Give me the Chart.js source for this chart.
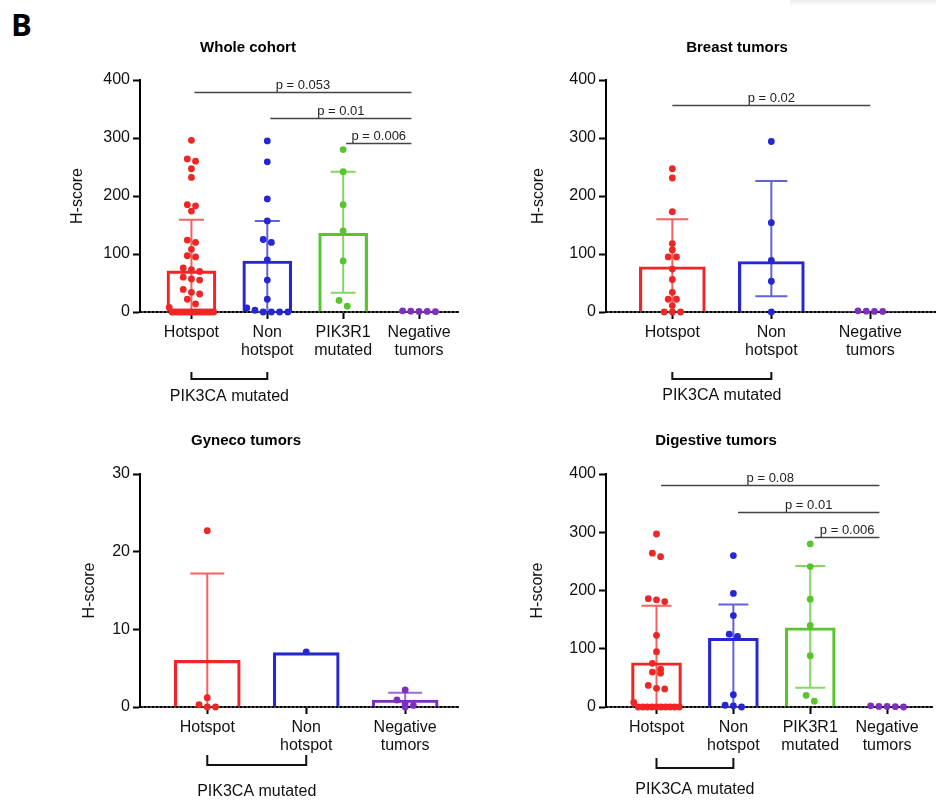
<!DOCTYPE html>
<html><head><meta charset="utf-8">
<script src="https://cdn.jsdelivr.net/npm/chart.js@4.4.1/dist/chart.umd.min.js"></script>
<style>
html,body{margin:0;padding:0;background:#fff;width:936px;height:802px;overflow:hidden;position:relative;}
canvas{position:absolute;}
#lbl{position:absolute;left:11px;top:6px;font:bold 31px "Open Sans","Liberation Sans",sans-serif;line-height:36px;color:#000;}
#shade{position:absolute;left:790px;top:0;width:146px;height:6px;background:linear-gradient(#ececec,#fff);}
</style></head><body>
<div id="lbl">B</div>
<div id="shade"></div>
<canvas id="c1"></canvas>
<canvas id="c2"></canvas>
<canvas id="c3"></canvas>
<canvas id="c4"></canvas>
<script>
const FONT = '"Liberation Sans", Arial, sans-serif';

// ---------------- data ----------------
const categories4 = ['Hotspot', 'Non hotspot', 'PIK3R1 mutated', 'Negative tumors'];
const categories3 = ['Hotspot', 'Non hotspot', 'Negative tumors'];
const groupLabel = 'PIK3CA mutated';
const yAxisLabel = 'H-score';

const wholeHotspot = [296, 264, 260, 247, 232, 185, 183, 174, 124, 120, 108, 97, 95, 76, 73, 70, 60, 57, 55, 39, 34, 31, 22, 14, 8, 0, 0, 0, 0, 0, 0, 0, 0, 0, 0, 0, 0, 0, 0, 0, 0];
const wholeNonHotspot = [295, 259, 195, 157, 125, 120, 90, 55, 22, 7, 3, 0, 0, 0, 0];
const wholePIK3R1 = [280, 242, 185, 140, 88, 20, 10];
const wholeNegative = [2, 1.5, 1, 1, 0.5];
const wholeMean = [71, 88, 136, 0.6];
const wholeErrHigh = [159, 157, 242, 0];
const wholeErrLow = [0, 0, 33, 0];
const wholePvalues = [[0, 3, 379, 'p = 0.053'], [1, 3, 335, 'p = 0.01'], [2, 3, 291, 'p = 0.006']];

const breastHotspot = [247, 231, 173, 118, 107, 95, 95, 74, 56, 34, 22, 22, 11, 0, 0, 0];
const breastNonHotspot = [294, 154, 89, 53, 0];
const breastNegative = [2, 1.5, 1, 1];
const breastMean = [78, 87, 0.5];
const breastErrHigh = [160, 226, 0];
const breastErrLow = [0, 27, 0];
const breastPvalues = [[0, 2, 357, 'p = 0.02']];

const gynecoHotspot = [22.7, 1.2, 0.3, 0, 0];
const gynecoNonHotspot = [7.1];
const gynecoNegative = [2.2, 0.9, 0.4, 0.2, 0];
const gynecoMean = [6, 7, 0.9];
const gynecoErrHigh = [17.2, 0, 1.85];
const gynecoErrLow = [0, 0, 0];
const gynecoPvalues = [];

const digestiveHotspot = [297, 264, 258, 186, 184, 181, 123, 95, 75, 65, 60, 58, 37, 32, 31, 8, 0, 0, 0, 0, 0, 0, 0, 0, 0, 0];
const digestiveNonHotspot = [260, 195, 157, 125, 121, 21, 3, 2, 0];
const digestivePIK3R1 = [280, 241, 185, 140, 88, 20, 10];
const digestiveNegative = [2, 1, 1, 0.5, 0];
const digestiveMean = [76, 118, 136, 0.6];
const digestiveErrHigh = [174, 176, 242, 0];
const digestiveErrLow = [0, 0, 33, 0];
const digestivePvalues = [[0, 3, 381, 'p = 0.08'], [1, 3, 335, 'p = 0.01'], [2, 3, 291, 'p = 0.006']];

const RED = '#ee2626', BLUE = '#2626d2', GREEN = '#58c52c', PURPLE = '#7c30bd';
const colors4 = [RED, BLUE, GREEN, PURPLE];
const colors3 = [RED, BLUE, PURPLE];

// ---------------- panels (layout/style) ----------------
const panels = [
  {id:'c1', title:'Whole cohort', cats:categories4, groups:[wholeHotspot, wholeNonHotspot, wholePIK3R1, wholeNegative],
   mean:wholeMean, hi:wholeErrHigh, lo:wholeErrLow, pvals:wholePvalues, colors:colors4, yMax:400, yStep:100,
   xMin:-0.678, xMax:3.522, left:34, top:39, width:428, height:373, yAxisW:106, yTitlePad:34, titlePad:23, xAxisH:100,
   barW:49, capW:25, pInsetL:0.04, pInsetR:0.1, br:[60, 67, 85]},
  {id:'c2', title:'Breast tumors', cats:categories3, groups:[breastHotspot, breastNonHotspot, breastNegative],
   mean:breastMean, hi:breastErrHigh, lo:breastErrLow, pvals:breastPvalues, colors:colors3, yMax:400, yStep:100,
   xMin:-0.67, xMax:2.76, left:525, top:39, width:424, height:373, yAxisW:81, yTitlePad:4, titlePad:23, xAxisH:100,
   barW:66, capW:32, pInsetL:0.0, pInsetR:0.0, br:[60, 67, 84]},
  {id:'c3', title:'Gyneco tumors', cats:categories3, groups:[gynecoHotspot, gynecoNonHotspot, gynecoNegative],
   mean:gynecoMean, hi:gynecoErrHigh, lo:gynecoErrLow, pvals:gynecoPvalues, colors:colors3, yMax:30, yStep:10,
   xMin:-0.68, xMax:2.54, left:30, top:432, width:432, height:375, yAxisW:110, yTitlePad:50, titlePad:24, xAxisH:100,
   barW:66, capW:34, pInsetL:0, pInsetR:0, br:[48, 58, 85]},
  {id:'c4', title:'Digestive tumors', cats:categories4, groups:[digestiveHotspot, digestiveNonHotspot, digestivePIK3R1, digestiveNegative],
   mean:digestiveMean, hi:digestiveErrHigh, lo:digestiveErrLow, pvals:digestivePvalues, colors:colors4, yMax:400, yStep:100,
   xMin:-0.657, xMax:3.592, left:496, top:432, width:440, height:375, yAxisW:110, yTitlePad:32, titlePad:24, xAxisH:100,
   barW:50, capW:30, pInsetL:0.06, pInsetR:0.1, br:[51, 61, 83]}
];

const RADIUS = 3.4;

// simple beeswarm: group values into rows, spread each row horizontally
function swarmOffsets(values, ppy, maxHalf) {
  const diam = RADIUS * 2;
  const order = values.map((v, i) => i).sort((a, b) => values[b] - values[a]);
  const rows = [];
  let cur = [], start = null;
  order.forEach(i => {
    const yp = values[i] * ppy;
    if (start !== null && start - yp >= diam * 0.9) { rows.push(cur); cur = []; start = null; }
    if (start === null) start = yp;
    cur.push(i);
  });
  if (cur.length) rows.push(cur);
  const off = new Array(values.length).fill(0);
  rows.forEach(r => {
    const n = r.length;
    if (n === 1) return;
    const step = Math.min(diam + 1.5, (2 * maxHalf) / (n - 1));
    r.forEach((i, k) => { off[i] = (k - (n - 1) / 2) * step; });
  });
  return off;
}

function makeAnnot(P) {
  return {
    id: 'annot_' + P.id,
    beforeDatasetsDraw(chart) {
      const {ctx, chartArea, scales: {y}} = chart;
      const y0 = y.getPixelForValue(0);
      ctx.save();
      ctx.strokeStyle = 'rgba(255,255,255,0.55)';
      ctx.lineWidth = 1;
      ctx.setLineDash([2, 2]);
      ctx.beginPath(); ctx.moveTo(chartArea.left + 2, y0); ctx.lineTo(chartArea.right, y0); ctx.stroke();
      ctx.restore();
    },
    afterDatasetsDraw(chart) {
      const {ctx, chartArea, scales: {x, y}} = chart;
      ctx.save();
      // error bars
      P.mean.forEach((m, i) => {
        const h = P.hi[i], l = P.lo[i];
        if (!(h > m)) return;
        const cx = x.getPixelForValue(i);
        const yt = y.getPixelForValue(h);
        const yb = y.getPixelForValue(Math.max(l, 0));
        ctx.strokeStyle = P.colors[i];
        ctx.globalAlpha = 0.72;
        ctx.lineWidth = 2;
        ctx.beginPath();
        ctx.moveTo(cx, yt); ctx.lineTo(cx, yb);
        ctx.moveTo(cx - P.capW / 2, yt); ctx.lineTo(cx + P.capW / 2, yt);
        if (l > 0) { ctx.moveTo(cx - P.capW / 2, yb); ctx.lineTo(cx + P.capW / 2, yb); }
        ctx.stroke();
      });
      ctx.globalAlpha = 1;
      // p-value lines
      ctx.font = '13px ' + FONT;
      ctx.fillStyle = '#222';
      ctx.textAlign = 'center';
      ctx.textBaseline = 'alphabetic';
      P.pvals.forEach(([a, b, v, t]) => {
        const x1 = x.getPixelForValue(a + P.pInsetL), x2 = x.getPixelForValue(b - P.pInsetR);
        const yy = Math.round(y.getPixelForValue(v)) + 0.5;
        ctx.strokeStyle = '#444';
        ctx.lineWidth = 1.3;
        ctx.beginPath(); ctx.moveTo(x1, yy); ctx.lineTo(x2, yy); ctx.stroke();
        ctx.fillText(t, (x1 + x2) / 2, yy - 4);
      });
      // PIK3CA group bracket
      const gx1 = x.getPixelForValue(0), gx2 = x.getPixelForValue(1);
      const b = chartArea.bottom;
      ctx.strokeStyle = '#111';
      ctx.lineWidth = 2;
      ctx.beginPath();
      ctx.moveTo(gx1, b + P.br[0]); ctx.lineTo(gx1, b + P.br[1]);
      ctx.lineTo(gx2, b + P.br[1]); ctx.lineTo(gx2, b + P.br[0]);
      ctx.stroke();
      ctx.font = '16px ' + FONT;
      ctx.fillStyle = '#111';
      ctx.textBaseline = 'middle';
      ctx.fillText(groupLabel, (gx1 + gx2) / 2, b + P.br[2]);
      ctx.restore();
    }
  };
}

panels.forEach(P => {
  const cv = document.getElementById(P.id);
  cv.width = P.width; cv.height = P.height;
  cv.style.left = P.left + 'px'; cv.style.top = P.top + 'px';
  cv.style.width = P.width + 'px'; cv.style.height = P.height + 'px';

  const plotH = P.height - 18 - P.titlePad - P.xAxisH;
  const plotW = P.width - P.yAxisW;
  const ppy = plotH / P.yMax;
  const ppx = plotW / (P.xMax - P.xMin);

  const pointSets = P.groups.map((vals, i) => {
    const off = swarmOffsets(vals, ppy, P.barW / 2 - 2);
    return {
      type: 'scatter',
      data: vals.map((v, k) => ({x: i + off[k] / ppx, y: v})),
      pointRadius: RADIUS, pointHoverRadius: RADIUS,
      pointBackgroundColor: P.colors[i], pointBorderWidth: 0,
      borderColor: P.colors[i], backgroundColor: P.colors[i],
      showLine: false, clip: false, order: 1
    };
  });
  const barSet = {
    type: 'bar',
    data: P.mean.map((m, i) => ({x: i, y: m})),
    backgroundColor: 'rgba(255,255,255,0)',
    borderColor: P.colors,
    borderWidth: 2.5,
    barThickness: P.barW,
    borderSkipped: 'start',
    order: 3
  };

  new Chart(cv, {
    type: 'bar',
    data: {datasets: [barSet, ...pointSets]},
    options: {
      responsive: false, animation: false, devicePixelRatio: 1,
      layout: {padding: 0},
      events: [],
      plugins: {
        legend: {display: false}, tooltip: {enabled: false},
        title: {display: true, text: P.title, color: '#000',
          font: {family: FONT, size: 15, weight: 'bold', lineHeight: 1.2},
          padding: {top: 0, bottom: P.titlePad}}
      },
      scales: {
        x: {
          type: 'linear', min: P.xMin, max: P.xMax, offset: false,
          afterBuildTicks: s => { s.ticks = P.cats.map((c, i) => ({value: i})); },
          ticks: {callback: v => (P.cats[v] !== undefined ? P.cats[v].split(' ') : ''),
            color: '#111', font: {family: FONT, size: 16, lineHeight: 1.15}, padding: 4,
            maxRotation: 0, autoSkip: false},
          grid: {display: true, offset: false, drawOnChartArea: false, drawTicks: true, tickLength: 7, tickWidth: 2, tickColor: '#000'},
          border: {display: true, color: '#000', width: 2},
          afterFit: s => { s.height = P.xAxisH; }
        },
        y: {
          type: 'linear', min: 0, max: P.yMax,
          ticks: {stepSize: P.yStep, color: '#111', font: {family: FONT, size: 16}, padding: 3},
          grid: {display: true, drawOnChartArea: false, drawTicks: true, tickLength: 7, tickWidth: 2, tickColor: '#000'},
          border: {display: true, color: '#000', width: 2},
          title: {display: true, text: yAxisLabel, color: '#111', font: {family: FONT, size: 16}, padding: {top: P.yTitlePad, bottom: 0}},
          afterFit: s => { s.width = P.yAxisW; }
        }
      }
    },
    plugins: [makeAnnot(P)]
  });
});
</script>
</body></html>
